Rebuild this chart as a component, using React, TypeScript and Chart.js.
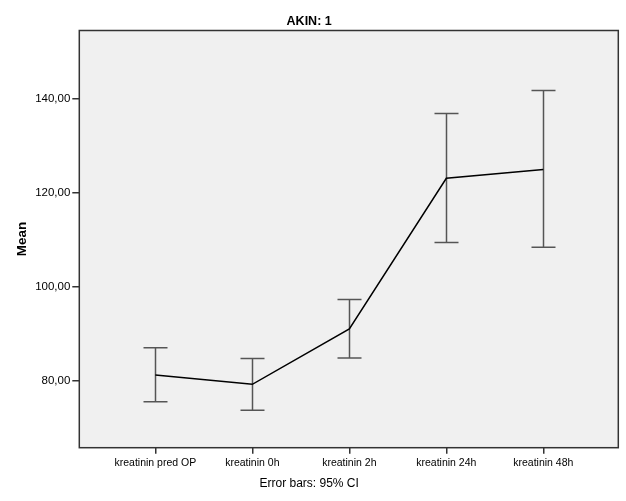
import React, { useEffect, useRef } from "react";
import { Chart, registerables } from "chart.js";

Chart.register(...registerables);

const categories = ["kreatinin pred OP", "kreatinin 0h", "kreatinin 2h", "kreatinin 24h", "kreatinin 48h"];
const means = [81.2, 79.2, 91.0, 123.1, 125.0];
const ciLower = [75.5, 73.7, 84.8, 109.4, 108.4];
const ciUpper = [87.0, 84.7, 97.3, 136.9, 141.8];
const yTickValues = [80, 100, 120, 140];
const chartTitle = "AKIN: 1";
const yTitle = "Mean";
const footnote = "Error bars: 95% CI";

const FONT = "'Liberation Sans', Arial, sans-serif";

const frameAndErrorBars = {
  id: "frameAndErrorBars",
  beforeDatasetsDraw(chart: any) {
    const { ctx, chartArea } = chart;
    const { left, top, right, bottom } = chartArea;
    ctx.save();
    ctx.fillStyle = "#f0f0f0";
    ctx.fillRect(left, top, right - left, bottom - top);
    const xs = chart.scales.x;
    const ys = chart.scales.y;
    ctx.strokeStyle = "#555555";
    ctx.lineWidth = 1.5;
    for (let i = 0; i < categories.length; i++) {
      const px = Math.round(xs.getPixelForValue(i)) + 0.5;
      const yl = ys.getPixelForValue(ciLower[i]);
      const yu = ys.getPixelForValue(ciUpper[i]);
      ctx.beginPath();
      ctx.moveTo(px, yu);
      ctx.lineTo(px, yl);
      ctx.moveTo(px - 12, yu);
      ctx.lineTo(px + 12, yu);
      ctx.moveTo(px - 12, yl);
      ctx.lineTo(px + 12, yl);
      ctx.stroke();
    }
    ctx.restore();
  },
  afterDraw(chart: any) {
    const { ctx, chartArea } = chart;
    const { left, top, right, bottom } = chartArea;
    ctx.save();
    ctx.strokeStyle = "#333333";
    ctx.lineWidth = 1.5;
    ctx.strokeRect(left, top, right - left, bottom - top);
    ctx.restore();
  },
};

export default function App() {
  const ref = useRef<HTMLCanvasElement | null>(null);
  useEffect(() => {
    document.body.style.margin = "0";
    const canvas = ref.current!;
    const chart = new Chart(canvas, {
      type: "line",
      data: {
        datasets: [
          {
            data: means.map((m, i) => ({ x: i, y: m })),
            borderColor: "#000000",
            borderWidth: 1.5,
            pointRadius: 0,
            tension: 0,
            fill: false,
          },
        ],
      },
      options: {
        animation: false,
        responsive: false,
        devicePixelRatio: 1,
        layout: { padding: { left: 0, right: 7.7, top: 0, bottom: 0 } },
        plugins: {
          legend: { display: false },
          tooltip: { enabled: false },
          title: {
            display: true,
            text: chartTitle,
            color: "#000000",
            font: { family: FONT, size: 12.5, weight: "bold" },
            padding: { top: 14, bottom: 1.5 },
          },
          subtitle: {
            display: true,
            position: "bottom",
            text: footnote,
            color: "#000000",
            font: { family: FONT, size: 12 },
            padding: { top: 2, bottom: 10 },
          },
        },
        scales: {
          x: {
            type: "linear",
            min: -0.784,
            max: 4.773,
            afterBuildTicks: (scale: any) => {
              scale.ticks = categories.map((_, i) => ({ value: i }));
            },
            afterFit: (scale: any) => {
              scale.height = 26.9;
            },
            ticks: {
              autoSkip: false,
              maxRotation: 0,
              color: "#000000",
              font: { family: FONT, size: 10.5 },
              padding: 3,
              callback: (v: any) => categories[v] ?? "",
            },
            grid: {
              drawOnChartArea: false,
              drawTicks: true,
              tickLength: 6,
              color: "#333333",
              lineWidth: 1.5,
            },
            border: { display: false },
          },
          y: {
            min: 65.7,
            max: 154.6,
            afterBuildTicks: (scale: any) => {
              scale.ticks = yTickValues.map((v) => ({ value: v }));
            },
            afterFit: (scale: any) => {
              scale.width = 79.3;
            },
            ticks: {
              color: "#000000",
              font: { family: FONT, size: 11.5 },
              padding: 2,
              callback: (v: any) => Number(v).toFixed(2).replace(".", ","),
            },
            grid: {
              drawOnChartArea: false,
              drawTicks: true,
              tickLength: 7,
              color: "#333333",
              lineWidth: 1.5,
            },
            border: { display: false },
            title: {
              display: true,
              text: yTitle,
              color: "#000000",
              font: { family: FONT, size: 13.5, weight: "bold" },
              padding: { top: 14, bottom: 0 },
            },
          },
        },
      },
      plugins: [frameAndErrorBars],
    } as any);
    return () => chart.destroy();
  }, []);
  return (
    <div style={{ width: 626, height: 501, background: "#ffffff" }}>
      <canvas ref={ref} width={626} height={501} style={{ display: "block", width: 626, height: 501 }} />
    </div>
  );
}
